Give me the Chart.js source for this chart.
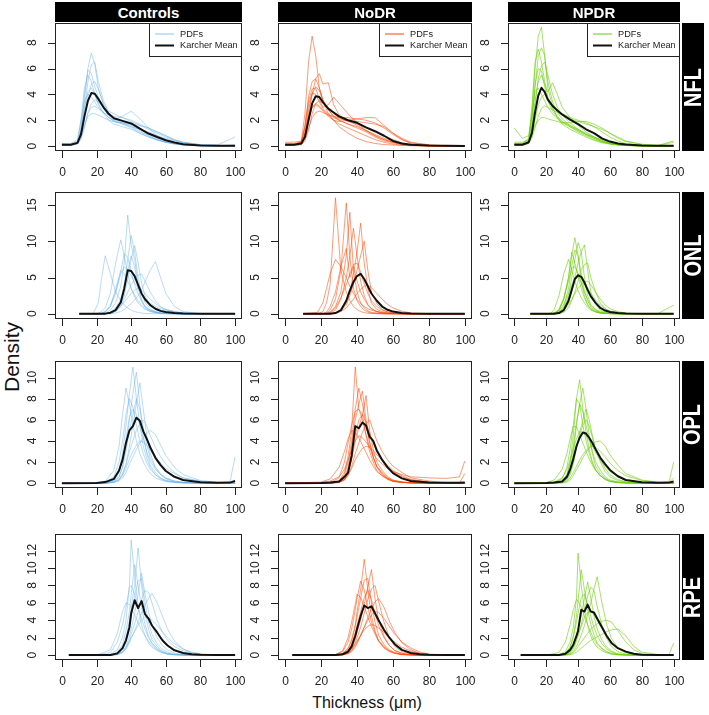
<!DOCTYPE html>
<html>
<head>
<meta charset="utf-8">
<script src="https://cdn.jsdelivr.net/npm/chart.js@4.4.1/dist/chart.umd.min.js"></script>
<style>
  body { margin: 0; width: 709px; height: 715px; background: #fff; position: relative; overflow: hidden;
         font-family: "Liberation Sans", Arial, sans-serif; }
  canvas { position: absolute; }
  .strip { position: absolute; background: #000; color: #fff; font-weight: bold; font-size: 15px;
           display: flex; align-items: center; justify-content: center; z-index: 2; }
  .side span { display: block; font-size: 20px; white-space: nowrap; transform: rotate(-90deg) scaleY(1.2); }
  .lab { position: absolute; color: #111; white-space: nowrap; transform: translate(-50%, -50%); }
</style>
</head>
<body>
<div class="strip" style="left:55px;top:2px;width:187px;height:20px">Controls</div>
<div class="strip" style="left:278px;top:2px;width:194px;height:20px">NoDR</div>
<div class="strip" style="left:508px;top:2px;width:172px;height:20px">NPDR</div>
<div class="strip side" style="left:682px;top:23px;width:22px;height:128px"><span>NFL</span></div>
<div class="strip side" style="left:682px;top:192px;width:22px;height:127px"><span>ONL</span></div>
<div class="strip side" style="left:682px;top:361px;width:22px;height:127px"><span>OPL</span></div>
<div class="strip side" style="left:682px;top:534px;width:22px;height:126px"><span>RPE</span></div>
<div class="lab" style="left:12px;top:357px;font-size:21px;transform:translate(-50%,-50%) rotate(-90deg)">Density</div>
<div class="lab" style="left:367px;top:703px;font-size:16px">Thickness (μm)</div>

<script>
// x grids (thickness) for each layer
const xNFL = [0, 5, 9, 11, 13, 15, 17, 19, 21, 24, 27, 30, 35, 40, 45, 50, 55, 60, 65, 70, 80, 90, 100];
const xONL = [10, 18, 21, 23, 25, 28, 31, 34, 36, 38, 40, 42, 44, 46, 48, 51, 54, 57, 60, 65, 70, 80, 90, 100];
const xOPL = [0, 20, 25, 30, 33, 35, 37, 39, 41, 43, 45, 47, 49, 51, 54, 57, 60, 65, 70, 80, 90, 97, 100];
const xRPE = [4, 20, 28, 32, 35, 37, 39, 40, 42, 44, 46, 48, 50, 52, 55, 58, 61, 65, 70, 75, 80, 90, 97, 100];

const xTicks = [0, 20, 40, 60, 80, 100];
const yTicksNFL = [0, 2, 4, 6, 8];
const yTicksONL = [0, 5, 10, 15];
const yTicksOPL = [0, 2, 4, 6, 8, 10];
const yTicksRPE = [0, 2, 4, 6, 8, 10, 12];

// ---- NFL ----
const meanNFLCtrl = [0.1,0.1,0.25,0.9,2.3,3.5,4.1,4.05,3.65,3.0,2.5,2.15,1.95,1.75,1.35,0.97,0.7,0.45,0.28,0.15,0.05,0.02,0.02];
const pdfNFLCtrl = [
  [0.05,0.05,0.2,1.2,3.5,6.0,7.2,6.3,4.5,3.2,2.4,2.0,1.7,1.4,1.0,0.7,0.45,0.3,0.18,0.1,0.04,0.02,0.02],
  [0.1,0.1,0.3,1.5,4.0,5.9,5.6,4.6,3.8,3.0,2.3,1.9,1.8,1.6,1.2,0.8,0.5,0.3,0.15,0.08,0.03,0.02,0.05],
  [0.15,0.1,0.2,0.8,2.2,3.8,4.8,5.0,4.4,3.3,2.6,2.2,1.9,1.7,1.3,0.9,0.6,0.4,0.25,0.12,0.05,0.03,0.03],
  [0.1,0.1,0.2,0.6,1.6,2.5,3.0,3.1,2.9,2.6,2.4,2.3,2.2,2.0,1.7,1.4,1.1,0.8,0.5,0.3,0.1,0.05,0.03],
  [0.1,0.1,0.3,1.2,3.0,4.2,4.5,4.0,3.3,2.6,2.2,2.0,2.3,2.7,2.1,1.4,0.8,0.5,0.3,0.15,0.05,0.03,0.03],
  [0.2,0.15,0.4,2.0,4.5,5.5,5.0,4.0,3.2,2.5,2.0,1.7,1.5,1.3,1.0,0.7,0.5,0.3,0.2,0.1,0.04,0.02,0.1],
  [0.05,0.05,0.15,0.5,1.4,2.6,3.3,3.6,3.4,3.0,2.7,2.5,2.2,1.9,1.6,1.3,1.0,0.7,0.45,0.25,0.1,0.05,0.02],
  [0.1,0.08,0.2,1.0,2.8,5.0,6.3,6.5,5.0,3.5,2.6,2.1,1.8,1.5,1.1,0.8,0.5,0.3,0.18,0.1,0.04,0.02,0.03],
  [0.2,0.2,0.5,2.0,3.5,4.0,3.8,3.4,3.0,2.6,2.2,1.9,1.7,1.5,1.3,1.1,0.8,0.6,0.4,0.25,0.1,0.1,0.7],
  [0.1,0.1,0.3,0.8,1.6,2.3,2.5,2.5,2.4,2.2,2.0,1.9,1.8,1.7,1.6,1.4,1.1,0.8,0.5,0.3,0.12,0.05,0.02]
];
const meanNFLNoDR = [0.1,0.1,0.2,0.7,2.0,3.3,3.85,3.8,3.4,2.9,2.6,2.3,2.0,1.8,1.45,1.15,0.8,0.4,0.2,0.1,0.04,0.02,0.01];
const pdfNFLNoDR = [
  [0.1,0.1,0.4,2.5,6.5,8.5,7.0,4.5,3.5,2.5,2.0,1.7,1.4,1.1,0.8,0.5,0.3,0.15,0.08,0.04,0.02,0.01,0.01],
  [0.1,0.1,0.2,0.8,2.4,4.0,5.2,5.6,4.8,4.9,3.2,2.4,2.0,1.6,1.2,0.8,0.5,0.3,0.15,0.06,0.02,0.01,0.01],
  [0.2,0.2,0.3,1.5,3.5,4.4,4.5,3.6,3.0,3.2,3.8,3.3,2.5,1.8,1.2,0.8,0.5,0.3,0.15,0.08,0.03,0.01,0.01],
  [0.1,0.1,0.2,0.6,1.4,2.2,2.6,2.7,2.6,2.4,2.3,2.2,2.2,2.1,2.0,1.8,1.4,0.9,0.5,0.25,0.08,0.02,0.01],
  [0.1,0.1,0.3,1.4,3.2,4.1,4.0,3.4,2.9,2.5,2.2,2.0,1.7,1.5,1.2,0.9,0.6,0.35,0.18,0.08,0.03,0.01,0.01],
  [0.3,0.3,0.4,1.0,2.2,3.0,3.3,3.1,2.8,2.4,2.0,1.5,1.0,0.6,0.35,0.2,0.12,0.08,0.05,0.03,0.01,0.01,0.01],
  [0.1,0.1,0.2,1.0,2.8,4.0,4.6,4.3,3.5,2.8,2.3,2.1,2.0,1.9,1.8,1.7,1.5,1.0,0.6,0.3,0.1,0.03,0.01],
  [0.05,0.05,0.1,0.4,1.2,2.5,3.3,3.5,3.3,2.9,2.5,2.2,1.9,1.7,1.4,1.1,0.8,0.5,0.25,0.1,0.03,0.01,0.01],
  [0.1,0.1,0.3,1.6,3.8,5.0,5.2,4.5,3.6,2.8,2.3,2.0,1.7,1.4,1.1,0.7,0.4,0.25,0.12,0.06,0.02,0.01,0.01],
  [0.1,0.1,0.2,0.8,2.0,3.0,3.2,3.0,2.7,2.3,2.0,1.9,2.0,2.1,2.2,2.2,1.6,1.0,0.5,0.2,0.05,0.02,0.01]
];
const meanNFLNPDR = [0.1,0.1,0.3,1.0,2.6,3.9,4.5,4.2,3.6,3.1,2.75,2.45,2.05,1.7,1.3,1.0,0.6,0.35,0.2,0.12,0.04,0.02,0.02];
const pdfNFLNPDR = [
  [0.1,0.1,0.4,2.5,6.0,8.5,9.2,7.0,4.5,3.0,2.2,1.7,1.3,1.0,0.7,0.45,0.25,0.15,0.08,0.04,0.02,0.01,0.01],
  [0.2,0.2,0.6,3.0,6.5,7.5,6.5,5.0,3.8,2.9,2.3,1.9,1.5,1.1,0.8,0.5,0.3,0.18,0.1,0.05,0.02,0.01,0.01],
  [0.1,0.1,0.3,1.2,3.2,5.2,6.2,6.5,5.5,4.0,3.0,2.4,1.8,1.3,0.9,0.6,0.35,0.2,0.1,0.05,0.02,0.01,0.01],
  [1.4,0.6,0.8,2.4,4.2,4.5,4.0,3.5,3.0,2.5,2.1,1.8,1.5,1.2,0.9,0.7,0.5,0.3,0.2,0.1,0.04,0.02,0.02],
  [0.1,0.1,0.2,0.6,1.4,2.3,2.9,3.1,3.0,2.8,2.6,2.4,2.1,1.9,1.7,1.5,1.3,1.0,0.7,0.4,0.15,0.05,0.02],
  [0.1,0.1,0.3,1.5,3.5,5.0,5.5,4.8,4.2,4.9,4.0,3.0,2.2,1.6,1.1,0.7,0.4,0.2,0.1,0.05,0.02,0.01,0.01],
  [0.3,0.3,0.5,1.0,1.6,2.0,2.2,2.2,2.1,2.0,1.9,1.8,1.8,1.9,1.9,1.7,1.4,1.0,0.6,0.35,0.12,0.05,0.4],
  [0.1,0.1,0.3,1.8,4.5,7.0,7.6,7.0,5.0,3.4,2.6,2.1,1.6,1.2,0.9,0.6,0.35,0.2,0.1,0.05,0.02,0.01,0.01],
  [0.1,0.1,0.2,0.8,2.0,3.2,3.8,4.0,3.7,3.2,2.8,2.5,2.2,2.0,1.8,1.5,1.1,0.7,0.4,0.2,0.06,0.02,0.3],
  [0.2,0.2,0.5,2.2,4.8,6.0,5.8,4.6,3.5,2.7,2.2,1.9,1.6,1.3,1.0,0.7,0.45,0.25,0.12,0.06,0.02,0.01,0.01]
];

// ---- ONL ----
const meanONLCtrl = [0,0,0,0,0.02,0.15,0.5,1.6,3.5,6.0,5.9,5.2,4.0,2.8,2.0,1.2,0.7,0.4,0.25,0.1,0.05,0.01,0,0];
const pdfONLCtrl = [
  [0,0,1.5,5.0,8.0,5.5,3.0,1.8,1.2,0.8,0.5,0.3,0.2,0.1,0.05,0.02,0,0,0,0,0,0,0,0],
  [0,0,0,0,0.1,0.5,1.5,3.8,7.0,13.6,9.5,7.5,4.0,2.0,1.0,0.5,0.25,0.1,0.05,0.02,0,0,0,0],
  [0,0,0.1,0.3,0.8,2.8,7.0,10.2,8.0,5.5,3.5,2.3,1.5,1.0,0.6,0.3,0.15,0.08,0.04,0.01,0,0,0,0],
  [0,0,0,0,0,0,0.1,0.3,0.6,1.0,1.4,1.9,2.5,3.3,4.4,6.0,7.2,5.0,2.8,1.0,0.3,0.05,0,0],
  [0,0,0,0.1,0.3,1.2,3.0,5.8,8.3,7.8,5.8,4.0,2.7,1.7,1.0,0.5,0.25,0.1,0.05,0.02,0,0,0,0],
  [0,0,0,0,0,0.1,0.4,1.0,1.6,2.2,2.8,3.3,3.5,3.3,2.8,2.0,1.4,0.9,0.6,0.3,0.12,0.03,0.01,0],
  [0,0,0,0,0,0.1,0.4,1.2,2.5,4.8,7.5,9.4,7.0,4.2,2.5,1.2,0.6,0.3,0.15,0.05,0.02,0,0,0],
  [0,0,0,0.05,0.3,1.0,2.8,5.5,6.5,6.0,5.2,4.3,3.5,2.8,2.1,1.5,1.0,0.7,0.5,0.25,0.1,0.02,0,0],
  [0,0,0,0,0,0.2,0.8,2.0,4.0,7.5,10.8,8.5,5.0,2.8,1.5,0.7,0.3,0.15,0.08,0.02,0,0,0,0],
  [0,0,0,0,0,0.05,0.3,1.0,2.0,3.0,4.0,4.8,5.3,5.5,4.5,3.0,1.8,1.0,0.6,0.3,0.15,0.03,0,0],
  [0,0,0,0.05,0.2,1.0,3.5,6.0,5.5,4.5,3.5,2.6,1.8,1.2,0.7,0.35,0.15,0.05,0.02,0,0,0,0,0],
  [0,0,0,0,0,0.1,0.5,1.5,3.5,6.0,8.0,6.5,3.5,1.8,0.9,0.4,0.2,0.08,0.03,0,0,0,0,0]
];
const meanONLNoDR = [0,0,0,0,0,0.1,0.5,1.8,3.2,4.4,5.2,5.5,4.8,3.8,2.8,1.8,1.0,0.55,0.3,0.12,0.05,0.01,0,0];
const pdfONLNoDR = [
  [0,0,0.3,1.5,4.0,16.0,6.0,3.0,1.8,1.0,0.6,0.3,0.15,0.08,0.04,0.02,0,0,0,0,0,0,0,0],
  [0,0,0,0.1,0.5,2.0,6.0,15.3,8.0,3.5,1.8,1.0,0.5,0.25,0.1,0.05,0,0,0,0,0,0,0,0],
  [0,0,0,0,0.2,1.0,3.0,8.0,14.0,6.0,3.0,1.5,0.8,0.4,0.2,0.1,0.05,0,0,0,0,0,0,0],
  [0,0,0,0,0,0.1,0.5,1.5,3.0,5.5,8.5,12.5,7.0,3.5,1.5,0.6,0.3,0.1,0.05,0,0,0,0,0],
  [0,0,0,0,0.1,0.5,2.0,5.0,8.0,11.8,8.0,4.5,2.5,1.3,0.7,0.3,0.15,0.05,0.02,0,0,0,0,0],
  [0,0.2,1.5,3.5,5.5,7.5,6.5,5.0,3.8,2.8,2.0,1.4,1.0,0.7,0.5,0.3,0.15,0.08,0.04,0.01,0,0,0,0],
  [0,0,0,0.2,1.0,3.0,6.5,9.0,5.0,6.5,4.5,3.0,2.0,1.2,0.7,0.3,0.15,0.05,0.02,0,0,0,0,0],
  [0,0,0,0,0,0.1,0.3,0.8,1.4,2.0,2.8,3.4,3.8,4.0,3.6,2.8,2.0,1.3,0.8,0.35,0.12,0.02,0,0],
  [0,0,0,0,0,0.1,0.4,1.2,2.5,4.0,6.0,8.0,10.0,6.0,3.0,1.4,0.6,0.25,0.1,0.03,0,0,0,0],
  [0,0,0,0,0.2,0.8,2.2,4.0,5.5,6.8,7.0,5.8,4.2,2.8,1.8,1.0,0.5,0.25,0.12,0.04,0.01,0,0,0]
];
const meanONLNPDR = [0,0,0,0,0.01,0.1,0.5,1.8,3.3,4.8,5.3,5.1,4.3,3.3,2.4,1.5,0.8,0.45,0.25,0.1,0.04,0.01,0,0];
const pdfONLNPDR = [
  [0,0,0,0,0.1,0.5,2.0,5.0,8.0,10.5,8.0,4.5,2.5,1.2,0.6,0.25,0.1,0.05,0.02,0,0,0,0,0],
  [0,0,0,0,0,0.1,0.4,1.5,3.0,5.0,7.0,8.5,9.5,6.0,3.0,1.3,0.5,0.2,0.08,0.02,0,0,0,0],
  [0,0,0,0.1,0.6,2.5,5.5,7.5,6.0,4.5,3.2,2.2,1.5,0.9,0.5,0.25,0.1,0.05,0.02,0,0,0,0,0],
  [0,0,0,0,0,0.2,0.8,2.5,5.0,7.5,9.8,8.5,5.0,2.5,1.2,0.5,0.2,0.08,0.03,0,0,0,0,0],
  [0,0,0,0,0,0.1,0.5,1.2,2.0,2.8,3.5,4.0,4.4,4.5,4.0,3.0,2.0,1.2,0.7,0.3,0.1,0.02,0,1.2],
  [0,0,0,0,0.1,0.6,2.2,4.5,6.3,6.5,5.5,4.2,3.0,2.0,1.2,0.6,0.3,0.12,0.05,0.01,0,0,0,0],
  [0,0,0,0,0.05,0.4,2.0,5.0,8.5,7.0,5.2,3.5,2.2,1.3,0.7,0.3,0.12,0.05,0.02,0,0,0,0,0],
  [0,0,0,0,0,0.05,0.2,0.8,1.8,3.0,4.5,6.0,6.8,7.0,5.0,3.0,1.5,0.7,0.3,0.1,0.03,0,0,0],
  [0,0,0,0,0.1,0.4,1.3,2.8,4.0,5.0,5.5,5.2,4.5,3.6,2.8,1.9,1.2,0.7,0.4,0.15,0.05,0.01,0,0],
  [0,0,0,0,0,0.2,1.0,3.5,6.5,8.8,8.0,5.5,3.2,1.8,0.9,0.4,0.15,0.06,0.02,0,0,0,0,0]
];

// ---- OPL ----
const meanOPLCtrl = [0,0.02,0.1,0.4,1.2,2.2,3.8,5.0,5.4,6.2,5.9,4.9,4.2,3.4,2.4,1.7,1.15,0.6,0.3,0.08,0.03,0.05,0.2];
const pdfOPLCtrl = [
  [0,0,0.05,0.3,1.2,2.8,5.5,8.5,11.0,8.0,5.5,3.5,2.3,1.5,0.8,0.4,0.2,0.08,0.03,0.01,0,0,0],
  [0,0,0,0.2,0.6,1.5,3.5,6.0,8.5,10.5,7.5,4.5,2.8,1.7,1.0,0.5,0.25,0.1,0.04,0.01,0,0,0],
  [0,0,0.1,0.6,2.0,4.0,6.5,8.0,7.2,5.5,4.0,2.8,1.9,1.3,0.8,0.45,0.25,0.1,0.04,0.01,0,0,0],
  [0,0,0,0.1,0.4,0.9,1.8,3.0,4.0,5.0,5.6,6.0,5.4,4.5,3.4,2.5,1.8,1.0,0.5,0.15,0.05,0.02,0.1],
  [0,0,0,0.1,0.3,0.8,1.8,3.5,5.5,7.5,9.5,7.0,4.5,2.8,1.5,0.8,0.4,0.15,0.05,0.01,0,0,0],
  [0,0,0,0.1,0.3,0.7,1.4,2.3,3.0,3.6,4.0,3.9,3.6,3.1,2.5,1.9,1.4,0.9,0.5,0.2,0.06,0.05,2.5],
  [0,0,0.02,0.3,1.0,2.2,4.2,6.3,7.0,6.5,5.5,4.2,3.0,2.1,1.3,0.8,0.45,0.2,0.08,0.02,0.01,0.02,0.3],
  [0,0,0.2,1.2,3.5,6.5,9.0,7.5,5.5,4.0,2.8,2.0,1.4,0.9,0.5,0.3,0.15,0.06,0.02,0,0,0,0],
  [0,0,0,0.05,0.2,0.5,1.0,1.8,2.5,3.2,3.8,4.3,4.7,5.0,4.6,3.6,2.6,1.5,0.8,0.25,0.08,0.03,0.1],
  [0,0,0,0.15,0.6,1.5,3.0,5.0,6.5,8.0,7.0,5.2,3.6,2.4,1.5,0.9,0.5,0.2,0.08,0.02,0,0,0]
];
const meanOPLNoDR = [0,0.02,0.05,0.15,0.6,1.0,2.6,5.4,5.2,5.75,5.45,4.4,4.0,3.1,2.2,1.5,0.95,0.45,0.2,0.05,0.03,0.03,0.05];
const pdfOPLNoDR = [
  [0,0,0.02,0.2,1.0,2.5,5.0,11.0,7.0,6.5,4.5,3.0,2.0,1.2,0.7,0.35,0.15,0.05,0.02,0,0,0,0],
  [0,0,0,0.1,0.5,1.5,3.5,6.0,7.5,8.7,6.0,4.0,2.5,1.5,0.8,0.4,0.2,0.08,0.03,0,0,0,0],
  [0,0,0,0.05,0.3,1.0,2.5,4.5,6.0,6.5,8.3,5.0,3.2,2.0,1.2,0.6,0.3,0.12,0.04,0.01,0,0,0],
  [0,0.05,0.2,0.6,1.3,2.2,3.2,4.0,4.5,4.3,3.9,3.4,2.8,2.3,1.8,1.4,1.1,0.8,0.6,0.5,0.45,0.6,2.1],
  [0,0,0,0.1,0.3,0.7,1.4,2.2,2.8,3.3,3.5,3.4,3.1,2.7,2.2,1.7,1.2,0.7,0.35,0.1,0.03,0.02,0.9],
  [0,0,0.05,0.5,2.0,3.8,5.5,6.8,7.0,6.0,4.6,3.4,2.4,1.6,1.0,0.5,0.25,0.1,0.03,0,0,0,0],
  [0,0,0,0.1,0.3,0.8,1.6,2.8,3.8,4.8,5.6,6.0,5.0,4.0,3.0,2.2,1.6,1.0,0.5,0.2,0.05,0.01,0],
  [0,0,0,0.2,0.8,2.0,4.0,7.0,9.0,7.5,5.5,3.8,2.5,1.6,0.9,0.45,0.2,0.08,0.03,0,0,0,0],
  [0,0.1,0.4,1.5,3.0,4.2,5.0,4.8,4.3,3.6,2.9,2.2,1.6,1.1,0.7,0.4,0.2,0.08,0.03,0,0,0,0],
  [0,0,0,0.1,0.4,1.0,2.2,4.0,5.3,6.5,5.8,4.7,3.8,3.0,2.2,1.6,1.1,0.6,0.3,0.1,0.03,0.01,0]
];
const meanOPLNPDR = [0,0.02,0.05,0.15,0.6,1.3,2.3,3.5,4.3,4.8,4.7,4.3,3.8,3.2,2.4,1.8,1.25,0.65,0.3,0.08,0.03,0.05,0.15];
const pdfOPLNPDR = [
  [0,0,0,0.2,0.8,2.0,4.5,8.0,9.8,7.0,4.8,3.2,2.0,1.3,0.7,0.35,0.15,0.05,0.02,0,0,0,0],
  [0,0,0,0.1,0.5,1.2,2.8,5.5,7.5,9.0,7.0,4.5,2.8,1.6,0.9,0.45,0.2,0.08,0.03,0,0,0,0],
  [0,0,0,0.05,0.3,0.8,1.8,3.3,4.8,6.0,7.0,6.0,4.5,3.2,2.0,1.1,0.6,0.25,0.08,0.02,0,0,0],
  [0,0.02,0.1,0.5,1.3,2.2,3.2,4.2,4.9,4.8,4.5,4.0,3.5,2.9,2.2,1.6,1.1,0.6,0.3,0.08,0.02,0.02,2.0],
  [0,0,0,0.05,0.2,0.5,1.0,1.6,2.2,2.7,3.1,3.4,3.5,3.4,3.0,2.5,1.9,1.2,0.7,0.25,0.08,0.03,0.2],
  [0,0,0.05,0.4,1.5,3.2,5.5,8.0,7.5,5.5,4.0,2.8,1.9,1.2,0.7,0.35,0.15,0.05,0.02,0,0,0,0],
  [0,0,0,0.1,0.4,1.0,2.0,3.4,4.5,5.5,6.0,5.4,4.3,3.2,2.2,1.4,0.8,0.35,0.12,0.03,0,0,0],
  [0,0,0,0.02,0.1,0.3,0.7,1.3,1.8,2.4,2.9,3.3,3.7,3.9,4.0,3.5,2.7,1.7,0.9,0.3,0.08,0.03,0.5],
  [0,0,0,0.2,0.8,1.8,3.5,5.8,7.5,6.8,5.5,4.2,3.0,2.0,1.2,0.6,0.3,0.12,0.04,0.01,0,0,0],
  [0,0.05,0.3,1.3,2.8,4.2,5.4,5.3,4.6,3.8,3.0,2.3,1.7,1.2,0.7,0.4,0.2,0.08,0.03,0,0,0,0]
];

// ---- RPE ----
const meanRPECtrl = [0,0,0.02,0.2,0.8,1.7,3.2,4.8,6.3,5.4,6.2,4.7,4.2,3.4,2.6,1.7,1.1,0.55,0.25,0.1,0.04,0.01,0.01,0.01];
const pdfRPECtrl = [
  [0,0,0.1,0.6,2.0,4.0,8.0,13.2,9.0,5.5,3.5,2.2,1.4,0.9,0.5,0.25,0.1,0.04,0.01,0,0,0,0,0],
  [0,0,0,0.2,0.8,2.0,4.0,5.5,8.0,12.3,8.0,4.8,3.0,1.8,1.0,0.5,0.2,0.08,0.02,0,0,0,0,0],
  [0,0,0,0.1,0.4,1.0,2.2,3.0,4.8,7.0,9.4,7.0,5.0,3.4,2.0,1.1,0.6,0.25,0.08,0.02,0,0,0,0],
  [0,0,0.3,1.5,3.5,5.5,7.8,8.0,7.0,5.5,4.2,3.0,2.0,1.3,0.7,0.35,0.15,0.05,0.01,0,0,0,0,0],
  [0,0,0,0.05,0.3,0.7,1.4,1.9,2.8,3.8,4.8,5.8,6.5,7.1,6.0,4.5,3.0,1.6,0.7,0.25,0.08,0.01,0,0],
  [0,0,0,0.1,0.4,0.9,1.6,2.0,2.7,3.4,4.0,4.4,4.3,4.0,3.4,2.7,2.0,1.3,0.7,0.35,0.15,0.03,0.01,0],
  [0,0,0,0.3,1.2,2.8,5.0,7.0,10.4,8.0,5.5,3.5,2.2,1.4,0.8,0.4,0.18,0.06,0.02,0,0,0,0,0],
  [0,0,0,0.05,0.3,0.8,1.7,2.4,3.6,5.0,6.4,7.4,7.2,6.0,4.0,2.6,1.7,1.0,0.5,0.25,0.1,0.02,0,0],
  [0,0,0.6,2.5,5.0,6.0,5.8,5.4,4.6,3.7,2.9,2.2,1.6,1.1,0.6,0.3,0.12,0.04,0.01,0,0,0,0,0],
  [0,0,0,0.1,0.6,1.5,3.2,4.5,6.8,8.5,8.8,6.0,3.8,2.4,1.3,0.7,0.35,0.12,0.04,0.01,0,0,0,0]
];
const meanRPENoDR = [0,0,0.02,0.1,0.4,1.0,2.2,3.0,4.5,5.7,5.4,5.6,4.8,4.0,2.9,2.0,1.25,0.6,0.25,0.1,0.04,0.01,0,0];
const pdfRPENoDR = [
  [0,0,0,0.2,0.8,1.8,3.5,5.0,7.5,11.0,7.5,4.5,2.8,1.6,0.8,0.4,0.2,0.06,0.02,0,0,0,0,0],
  [0,0,0,0.05,0.3,0.8,1.8,2.6,4.0,5.8,7.8,9.8,6.5,4.0,2.2,1.1,0.5,0.2,0.05,0.01,0,0,0,0],
  [0,0,0.05,0.4,1.5,3.0,5.2,6.5,8.5,7.5,5.5,3.8,2.6,1.7,1.0,0.5,0.25,0.08,0.02,0,0,0,0,0],
  [0,0,0,0.05,0.2,0.5,1.1,1.5,2.3,3.2,4.0,4.6,5.0,4.9,4.2,3.3,2.4,1.5,0.8,0.35,0.12,0.03,0,0],
  [0,0,0,0.1,0.5,1.2,2.5,3.4,5.0,6.6,7.5,6.4,4.8,3.4,2.0,1.1,0.55,0.2,0.06,0.01,0,0,0,0],
  [0,0,0,0.1,0.3,0.7,1.3,1.6,2.3,2.9,3.3,3.5,3.4,3.1,2.6,2.0,1.5,0.9,0.45,0.2,0.07,0.01,0,0],
  [0,0,0,0.15,0.7,1.6,3.2,4.4,6.5,8.6,8.8,6.0,3.8,2.3,1.2,0.6,0.3,0.1,0.03,0,0,0,0,0],
  [0,0,0,0.02,0.15,0.4,0.9,1.3,2.2,3.2,4.3,5.3,6.1,6.5,5.5,3.9,2.6,1.4,0.6,0.2,0.06,0.01,0,0],
  [0,0,0.05,0.5,2.0,3.8,5.8,7.0,6.6,5.6,4.4,3.3,2.4,1.6,0.9,0.45,0.2,0.06,0.02,0,0,0,0,0],
  [0,0,0,0.05,0.2,0.6,1.4,2.0,3.2,4.8,6.4,7.6,8.0,6.2,3.8,2.0,1.0,0.4,0.12,0.03,0,0,0,0]
];
const meanRPENPDR = [0,0,0.02,0.15,0.6,1.2,2.2,2.8,5.2,5.0,5.8,5.0,4.9,4.2,3.2,2.2,1.4,0.8,0.4,0.15,0.05,0.01,0,0];
const pdfRPENPDR = [
  [0,0,0.05,0.4,1.5,3.2,6.5,11.7,8.0,5.2,3.4,2.2,1.4,0.9,0.5,0.25,0.1,0.03,0.01,0,0,0,0,0],
  [0,0,0,0.02,0.15,0.4,1.0,1.4,2.3,3.4,4.6,6.0,7.6,9.0,6.0,3.5,1.9,0.8,0.3,0.08,0.02,0,0,0],
  [0,0,0,0.1,0.4,1.0,2.2,3.0,4.6,6.5,8.4,6.5,4.5,3.0,1.7,0.9,0.45,0.15,0.04,0.01,0,0,0,0],
  [0,0,0,0,0.05,0.15,0.35,0.5,0.8,1.1,1.4,1.7,1.9,2.1,2.4,2.7,2.9,3.0,2.2,1.0,0.35,0.08,0.02,0],
  [0,0,0,0.2,0.9,2.0,3.8,4.8,6.6,7.0,5.8,4.4,3.2,2.2,1.3,0.7,0.35,0.12,0.04,0.01,0,0,0,0],
  [0,0,0,0.1,0.4,0.9,1.8,2.3,3.3,4.3,4.9,5.0,4.6,4.0,3.0,2.1,1.4,0.75,0.3,0.1,0.03,0.01,0,1.4],
  [0,0,0.3,1.5,3.5,5.2,6.4,6.2,5.5,4.5,3.5,2.6,1.8,1.2,0.7,0.35,0.15,0.05,0.01,0,0,0,0,0],
  [0,0,0,0.05,0.25,0.7,1.6,2.2,3.5,5.2,6.8,7.8,7.4,5.6,3.4,1.9,1.0,0.4,0.12,0.03,0,0,0,0],
  [0,0,0,0.02,0.1,0.3,0.7,1.0,1.5,2.0,2.5,3.0,3.3,3.6,3.9,4.0,3.8,2.8,1.5,0.6,0.2,0.04,0.01,0],
  [0,0,0,0.2,0.9,2.2,4.5,6.2,9.8,7.5,5.2,3.5,2.3,1.4,0.8,0.4,0.2,0.06,0.02,0,0,0,0,0]
];

// panel geometry (plot box in page pixels)
const cols = [{x: 55, w: 187}, {x: 278, w: 194}, {x: 508, w: 172}];
const rows = [{y: 23, h: 128}, {y: 192, h: 127}, {y: 361, h: 127}, {y: 534, h: 126}];

const lineColors = ['rgba(100,175,230,0.5)', 'rgba(255,69,0,0.6)', 'rgba(102,205,0,0.65)'];
const keyColors = ['rgb(140,195,235)', 'rgb(255,69,0)', 'rgb(102,205,0)'];

const panels = [
  {x: xNFL, yTicks: yTicksNFL, yMin: -0.38, yMax: 9.52,
   mean: [meanNFLCtrl, meanNFLNoDR, meanNFLNPDR], pdfs: [pdfNFLCtrl, pdfNFLNoDR, pdfNFLNPDR]},
  {x: xONL, yTicks: yTicksONL, yMin: -0.72, yMax: 16.8,
   mean: [meanONLCtrl, meanONLNoDR, meanONLNPDR], pdfs: [pdfONLCtrl, pdfONLNoDR, pdfONLNPDR]},
  {x: xOPL, yTicks: yTicksOPL, yMin: -0.46, yMax: 11.57,
   mean: [meanOPLCtrl, meanOPLNoDR, meanOPLNPDR], pdfs: [pdfOPLCtrl, pdfOPLNoDR, pdfOPLNPDR]},
  {x: xRPE, yTicks: yTicksRPE, yMin: -0.56, yMax: 13.9,
   mean: [meanRPECtrl, meanRPENoDR, meanRPENPDR], pdfs: [pdfRPECtrl, pdfRPENoDR, pdfRPENPDR]}
];

const FONT = '"Liberation Sans", Arial, sans-serif';

// R-style box, ticks, labels and legend
const rAxes = {
  id: 'rAxes',
  afterDraw(chart, args, opts) {
    const {ctx, chartArea: a, scales: {x, y}} = chart;
    ctx.save();
    ctx.strokeStyle = '#222';
    ctx.lineWidth = 1;
    ctx.strokeRect(a.left + 0.5, a.top + 0.5, a.right - a.left - 1, a.bottom - a.top - 1);

    ctx.fillStyle = '#222';
    ctx.font = '12px ' + FONT;
    ctx.textAlign = 'center';
    ctx.textBaseline = 'middle';
    ctx.beginPath();
    for (const v of xTicks) {
      const px = Math.round(x.getPixelForValue(v)) + 0.5;
      ctx.moveTo(px, a.bottom);
      ctx.lineTo(px, a.bottom + 7);
      ctx.fillText(String(v), px, a.bottom + 22);
    }
    for (const v of opts.yTicks) {
      const py = Math.round(y.getPixelForValue(v)) + 0.5;
      ctx.moveTo(a.left, py);
      ctx.lineTo(a.left - 7, py);
    }
    ctx.stroke();
    for (const v of opts.yTicks) {
      const py = y.getPixelForValue(v);
      ctx.save();
      ctx.translate(a.left - 22, py);
      ctx.rotate(-Math.PI / 2);
      ctx.fillText(String(v), 0, 0);
      ctx.restore();
    }

    if (opts.key >= 0) {
      const lw = 93.5, lh = 33;
      const lx = Math.round(a.right - lw), ly = a.top;
      ctx.fillStyle = '#fff';
      ctx.fillRect(lx, ly, lw, lh);
      ctx.strokeStyle = '#222';
      ctx.strokeRect(lx + 0.5, ly + 0.5, a.right - lx - 1, lh);
      ctx.lineWidth = 1;
      ctx.strokeStyle = keyColors[opts.key];
      ctx.beginPath(); ctx.moveTo(lx + 6, ly + 11); ctx.lineTo(lx + 25, ly + 11); ctx.stroke();
      ctx.lineWidth = 2;
      ctx.strokeStyle = '#111';
      ctx.beginPath(); ctx.moveTo(lx + 6, ly + 22.5); ctx.lineTo(lx + 25, ly + 22.5); ctx.stroke();
      ctx.fillStyle = '#222';
      ctx.font = '9.2px ' + FONT;
      ctx.textAlign = 'left';
      ctx.fillText('PDFs', lx + 31, ly + 11);
      ctx.fillText('Karcher Mean', lx + 31, ly + 22.5);
    }
    ctx.restore();
  }
};

const padL = 45, padT = 4, padR = 14, padB = 35;

function toPoints(xs, ys, name) {
  if (xs.length !== ys.length) throw new Error('length mismatch in ' + name + ': ' + ys.length + ' vs ' + xs.length);
  return xs.map((x, i) => ({x: x, y: ys[i]}));
}

rows.forEach((row, r) => {
  cols.forEach((col, c) => {
    const p = panels[r];
    const cv = document.createElement('canvas');
    cv.width = col.w + padL + padR;
    cv.height = row.h + padT + padB;
    cv.style.left = (col.x - padL) + 'px';
    cv.style.top = (row.y - padT) + 'px';
    document.body.appendChild(cv);

    const datasets = p.pdfs[c].map((ys, k) => ({
      data: toPoints(p.x, ys, 'panel ' + r + ',' + c + ' pdf ' + k),
      borderColor: lineColors[c],
      borderWidth: 0.9,
      order: 1
    }));
    datasets.push({
      data: toPoints(p.x, p.mean[c], 'panel ' + r + ',' + c + ' mean'),
      borderColor: '#111',
      borderWidth: 2,
      order: 0
    });

    new Chart(cv, {
      type: 'line',
      data: {datasets: datasets},
      options: {
        responsive: false,
        animation: false,
        devicePixelRatio: 1,
        events: [],
        layout: {padding: {left: padL, top: padT, right: padR, bottom: padB}},
        elements: {point: {radius: 0}, line: {tension: 0, borderJoinStyle: 'round'}},
        scales: {
          x: {type: 'linear', min: -4, max: 104, display: false},
          y: {type: 'linear', min: p.yMin, max: p.yMax, display: false}
        },
        plugins: {
          legend: {display: false},
          tooltip: {enabled: false},
          rAxes: {yTicks: p.yTicks, key: r === 0 ? c : -1}
        }
      },
      plugins: [rAxes]
    });
  });
});
</script>
</body>
</html>
